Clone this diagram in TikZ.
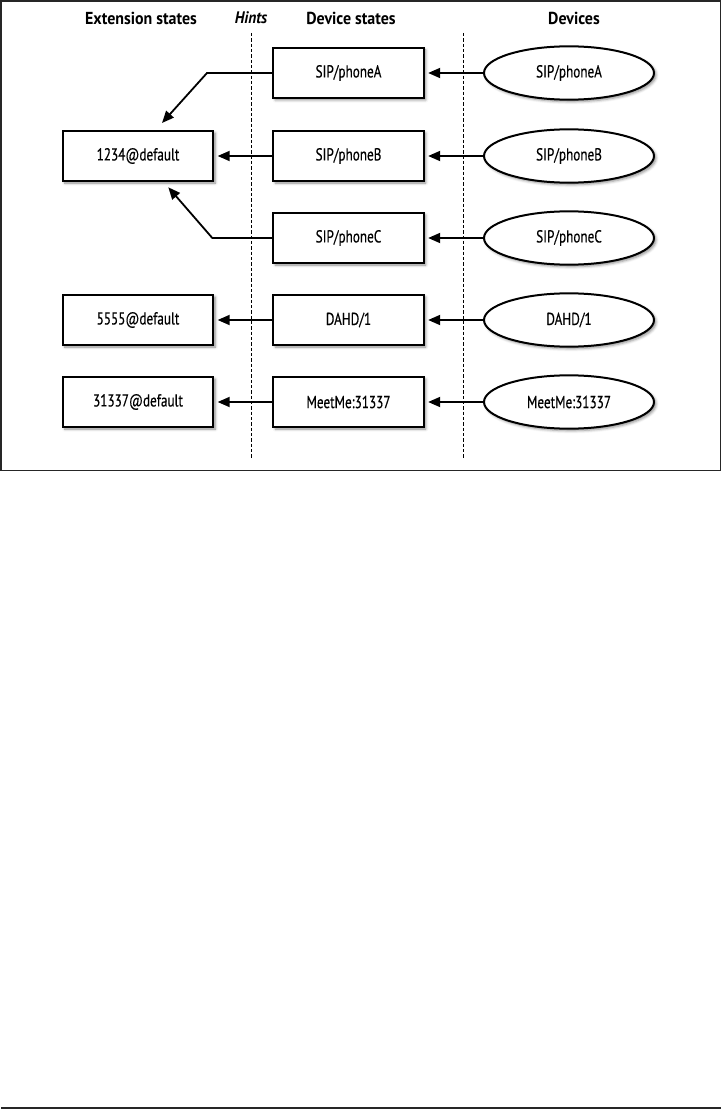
\documentclass[tikz,border=0pt]{standalone}
\usepackage{fontspec}
\setmainfont{PT Sans}[FakeStretch=0.76,FakeBold=0.4]
\newfontfamily\headfont{PT Sans}[FakeStretch=0.92]
\usetikzlibrary{arrows.meta,shapes.geometric,shadows.blur}

\begin{document}
\begin{tikzpicture}[x=0.75pt,y=-0.75pt,
  state/.style={draw,line width=1.5pt,fill=white,minimum width=113pt,minimum height=37.5pt,inner sep=0pt,
    font=\fontsize{13}{15}\selectfont,
    blur shadow={shadow xshift=1.5pt,shadow yshift=-1.5pt,shadow blur radius=2pt,shadow opacity=45}},
  device/.style={state,ellipse,minimum width=127.5pt,minimum height=40pt},
  head/.style={font=\headfont\fontsize{13}{15}\selectfont\bfseries},
  hint/.style={line width=0.75pt,dash pattern=on 2.5pt off 1.5pt},
  feed/.style={line width=1.35pt,-{Triangle[length=9pt,width=7.5pt]},shorten >=2.5pt}]

 \useasboundingbox (0,0) rectangle (722,1109);
 \draw[line width=0.8pt,black!85] (1,1) rectangle (720.5,470.5); % frame
 \draw[line width=1.1pt,black!85] (1,1108) -- (721,1108); % page rule

% column headings
 \node[head] (hExt) at (141,18) {Extension states};
 \node[head,font=\headfont\fontsize{12.5}{15}\selectfont\bfseries\itshape] (hHint) at (251,18) {Hints};
 \node[head] (hDev) at (351,18) {Device states};
 \node[head] (hDevices) at (574,18) {Devices};

% column separators
 \coordinate (hintTop) at (251.7,33);
 \coordinate (hintBot) at (251.7,459);
 \coordinate (devTop) at (463,33);
 \coordinate (devBot) at (463,459);
 \draw[hint] (hintTop) -- (hintBot);
 \draw[hint] (devTop) -- (devBot);

% extension states
 \node[state] (ext1) at (138,156) {1234@default};
 \node[state] (ext2) at (138,320) {5555@default};
 \node[state] (ext3) at (138,402) {31337@default};

% device states
 \node[state] (dsA) at (348.5,73) {SIP/phoneA};
 \node[state] (dsB) at (348.5,156) {SIP/phoneB};
 \node[state] (dsC) at (348.5,238) {SIP/phoneC};
 \node[state] (dsD) at (348.5,320) {DAHD/1};
 \node[state] (dsM) at (348.5,402) {MeetMe:31337};

% devices
 \node[device] (devA) at (569,73) {SIP/phoneA};
 \node[device] (devB) at (569,156) {SIP/phoneB};
 \node[device] (devC) at (569,238) {SIP/phoneC};
 \node[device] (devD) at (569,320) {DAHD/1};
 \node[device] (devM) at (569,402) {MeetMe:31337};

% devices feed device states
 \draw[feed] (devA.west) -- (dsA.east);
 \draw[feed] (devB.west) -- (dsB.east);
 \draw[feed] (devC.west) -- (dsC.east);
 \draw[feed] (devD.west) -- (dsD.east);
 \draw[feed] (devM.west) -- (dsM.east);

% hints map device states to extensions
 \coordinate (bendA) at (207,73);
 \coordinate (tipA) at (162,123);
 \coordinate (bendC) at (212.3,238);
 \coordinate (tipC) at (168.3,187.3);
 \draw[feed,shorten >=0pt] (dsA.west) -- (bendA) -- (tipA);
 \draw[feed] (dsB.west) -- (ext1.east);
 \draw[feed,shorten >=0pt] (dsC.west) -- (bendC) -- (tipC);
 \draw[feed] (dsD.west) -- (ext2.east);
 \draw[feed] (dsM.west) -- (ext3.east);

\end{tikzpicture}
\end{document}
